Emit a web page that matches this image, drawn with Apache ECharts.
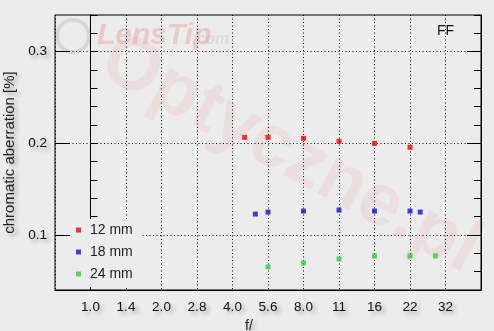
<!DOCTYPE html>
<html><head><meta charset="utf-8">
<script src="https://cdn.jsdelivr.net/npm/echarts@6/dist/echarts.min.js"></script>
<style>html,body{margin:0;padding:0;background:#ececec}#c{width:494px;height:331px}</style>
</head><body><div id="c"></div>
<script>
// f-number tick labels (one per stop)
const stopLabels = ['1.0','1.4','2.0','2.8','4.0','5.6','8.0','11','16','22','32'];
// y-axis labelled ticks
const yMajor = [0.1, 0.2, 0.3];
// series: f-numbers and chromatic aberration values [%]
const f12 = [4.5, 5.6, 8.0, 11, 16, 22];
const ca12 = [0.2065, 0.2065, 0.2054, 0.2022, 0.200, 0.1957];
const f18 = [5.0, 5.6, 8.0, 11, 16, 22, 25];
const ca18 = [0.1228, 0.125, 0.1261, 0.1272, 0.1261, 0.1261, 0.125];
const f24 = [5.6, 8.0, 11, 16, 22, 29];
const ca24 = [0.0652, 0.0696, 0.0739, 0.0772, 0.0772, 0.0772];
const seriesNames = ['12 mm', '18 mm', '24 mm'];
const colors = ['#ff0000', '#1414d2', '#33cc44'];

function stop(f) {
  const idx = stopLabels.findIndex(l => parseFloat(l) === f);
  return idx >= 0 ? idx : 2 * Math.log2(f);
}
function pts(fs, vs) { return fs.map((f, i) => [stop(f), vs[i]]); }

const font = 'Liberation Sans, Arial, sans-serif';
const shadow = {textShadowColor: 'rgba(0,0,0,0.33)', textShadowBlur: 4, textShadowOffsetX: 3, textShadowOffsetY: 3};
const dotted = [1, 2.5];

const chart = echarts.init(document.getElementById('c'));
function yAxisDef(pos, major, withLabels) {
  const a = {
    type: 'value', min: 0.04, max: 0.34, interval: 0.02, position: pos,
    axisLine: {show: !major, lineStyle: {color: '#000', width: 1}},
    axisTick: {show: true, inside: true, length: major ? 14 : 7, lineStyle: {color: '#000'}},
    axisLabel: {show: false},
    splitLine: {show: false}
  };
  if (major) a.axisTick.customValues = yMajor;
  if (withLabels) {
    a.axisLabel = {show: true, customValues: yMajor, fontFamily: font, fontSize: 13.5, color: '#111', margin: 8, ...shadow,
      formatter: v => v.toFixed(1)};
    a.name = 'chromatic aberration [%]';
    a.nameLocation = 'middle';
    a.nameGap = 33;
    a.nameTextStyle = {fontFamily: font, fontSize: 15, color: '#222', ...shadow};
    // dotted grid only at 0.1, 0.2, 0.3 (every 5th line, offset 3 from 0.04)
    a.splitLine = {show: true, lineStyle: {color: ['transparent', 'transparent', 'transparent', '#000', 'transparent'], type: dotted, width: 1}};
  }
  return a;
}
chart.setOption({
  backgroundColor: '#ececec',
  animation: false,
  color: colors,
  grid: {left: 55, right: 13, top: 15, bottom: 41, show: true, borderColor: '#000', borderWidth: 1,
    containLabel: false, outerBoundsMode: 'none'},
  title: {text: 'FF', right: 35, top: 19, textStyle: {fontFamily: font, fontSize: 14, fontWeight: 'normal', color: '#111'}},
  legend: {
    orient: 'vertical', left: 70, top: 219, itemWidth: 5, itemHeight: 5, itemGap: 8,
    padding: [4, 8, 6, 6], backgroundColor: '#ececec', icon: 'rect',
    data: seriesNames,
    textStyle: {fontFamily: font, fontSize: 14, color: '#222', padding: [0, 0, 0, 4]}
  },
  xAxis: {
    type: 'value', min: -1, max: 11, interval: 1,
    name: 'f/', nameLocation: 'middle', nameGap: 25,
    nameTextStyle: {fontFamily: font, fontSize: 14, color: '#222', padding: [0, 38, 0, 0], ...shadow},
    axisLine: {show: true, lineStyle: {color: '#000'}},
    axisTick: {show: false},
    axisLabel: {fontFamily: font, fontSize: 13.5, color: '#111', margin: 10, ...shadow,
      formatter: v => (v >= 0 && v <= 10) ? stopLabels[Math.round(v)] : ''},
    splitLine: {show: true, lineStyle: {color: '#000', type: dotted, width: 1}}
  },
  yAxis: [
    yAxisDef('left', false, true),
    yAxisDef('left', true, false),
    yAxisDef('right', false, false),
    yAxisDef('right', true, false)
  ],
  graphic: [
    {type: 'circle', shape: {cx: 73, cy: 36, r: 16}, z: -1, silent: true,
      style: {fill: 'none', stroke: 'rgba(150,150,150,0.25)', lineWidth: 4}},
    {type: 'text', x: 97, y: 21, z: -1, silent: true,
      style: {text: 'LensTip', font: 'italic bold 30px Liberation Sans, Arial, sans-serif', fill: 'rgba(225,120,120,0.3)'}},
    {type: 'text', x: 192, y: 32, z: -1, silent: true,
      style: {text: '.com', font: 'italic bold 16px Liberation Sans, Arial, sans-serif', fill: 'rgba(150,150,150,0.2)'}},
    {type: 'text', x: 290, y: 155, rotation: -0.5, z: -1, silent: true,
      style: {text: 'Optyczne.pl', font: 'bold 74px Liberation Sans, Arial, sans-serif', fill: 'rgba(235,70,70,0.08)', align: 'center', verticalAlign: 'middle'}}
  ],
  series: [
    {name: seriesNames[0], type: 'scatter', symbol: 'rect', symbolSize: 5, data: pts(f12, ca12), z: 5},
    {name: seriesNames[1], type: 'scatter', symbol: 'rect', symbolSize: 5, data: pts(f18, ca18), z: 5},
    {name: seriesNames[2], type: 'scatter', symbol: 'rect', symbolSize: 5, data: pts(f24, ca24), z: 5}
  ]
});
</script></body></html>
